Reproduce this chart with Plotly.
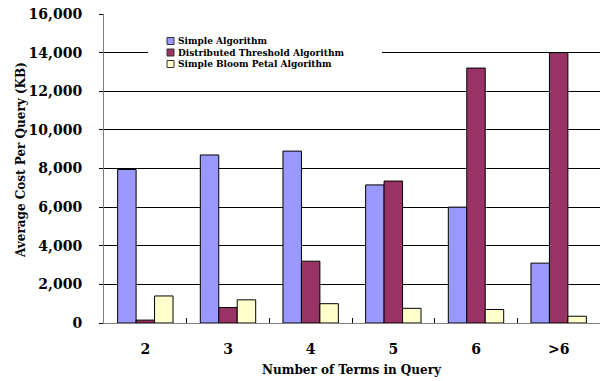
import plotly.graph_objects as go

# Query-cost data per number of search terms
categories = ["2", "3", "4", "5", "6", ">6"]
series_names = ["Simple Algorithm", "Distributed Threshold Algorithm", "Simple Bloom Petal Algorithm"]
simple_alg = [7950, 8700, 8900, 7150, 6000, 3100]
dist_threshold = [150, 800, 3200, 7350, 13200, 14000]
bloom_petal = [1400, 1200, 1000, 760, 700, 350]
colors = ["#9999FF", "#993366", "#FFFFCC"]
y_ticks = [0, 2000, 4000, 6000, 8000, 10000, 12000, 14000, 16000]
y_tick_text = ["0", "2,000", "4,000", "6,000", "8,000", "10,000", "12,000", "14,000", "16,000"]
x_title = "Number of Terms in Query"
y_title = "Average Cost Per Query (KB)"

SERIF = "DejaVu Serif"
L, R, T, B = 104, 2, 14, 58
W, H = 602, 381
PW, PH = W - L - R, H - T - B


def px(x):
    return (x - L) / PW


def py(y):
    return (H - B - y) / PH


fig = go.Figure()
for name, vals, col in zip(series_names, [simple_alg, dist_threshold, bloom_petal], colors):
    fig.add_trace(go.Bar(
        x=categories, y=vals, name=name,
        marker=dict(color=col, line=dict(color="#000000", width=1)),
        showlegend=False,
    ))

fig.update_layout(
    width=W, height=H,
    margin=dict(l=L, r=R, t=T, b=B),
    paper_bgcolor="white", plot_bgcolor="white",
    barmode="group", bargap=0.33, bargroupgap=0,
    font=dict(family=SERIF, color="black"),
)

fig.update_yaxes(
    range=[0, 16000], tickvals=y_ticks, ticktext=y_tick_text,
    showgrid=True, gridcolor="#000000", gridwidth=1,
    showline=True, linecolor="#808080", linewidth=1,
    ticks="outside", ticklen=4, tickcolor="#000000",
    ticklabelstandoff=14, automargin=False,
    tickfont=dict(family=SERIF, size=14, color="black", weight="bold"),
    zeroline=False,
)
fig.update_xaxes(
    showline=True, linecolor="#808080", linewidth=1,
    ticks="inside", tickson="boundaries", ticklen=5, tickcolor="#000000",
    ticklabelstandoff=13, automargin=False,
    tickfont=dict(family=SERIF, size=14, color="black", weight="bold"),
)

# Axis titles
fig.add_annotation(xref="paper", yref="paper", x=px(21), y=py(160),
                   text=y_title, textangle=-90, showarrow=False,
                   xanchor="center", yanchor="middle",
                   font=dict(family=SERIF, size=12, color="black", weight="bold"))
fig.add_annotation(xref="paper", yref="paper", x=px(352), y=py(370),
                   text=x_title, showarrow=False,
                   xanchor="center", yanchor="middle",
                   font=dict(family=SERIF, size=12, color="black", weight="bold"))

# Custom legend box drawn over the gridlines
fig.add_shape(type="rect", xref="paper", yref="paper",
              x0=px(148), x1=px(382), y0=py(72), y1=py(30),
              fillcolor="white", line=dict(width=0), layer="above")
for i, col in enumerate(colors):
    yc = 41 + i * 11.5
    fig.add_shape(type="rect", xref="paper", yref="paper",
                  x0=px(167), x1=px(174), y0=py(yc + 3.5), y1=py(yc - 3.5),
                  fillcolor=col, line=dict(color="#333333", width=1), layer="above")
fig.add_annotation(xref="paper", yref="paper", x=px(176), y=py(52.5),
                   text="<br>".join(series_names), showarrow=False,
                   xanchor="left", yanchor="middle", align="left",
                   font=dict(family=SERIF, size=9, color="black", weight="bold"))

fig.write_html("out.html")
